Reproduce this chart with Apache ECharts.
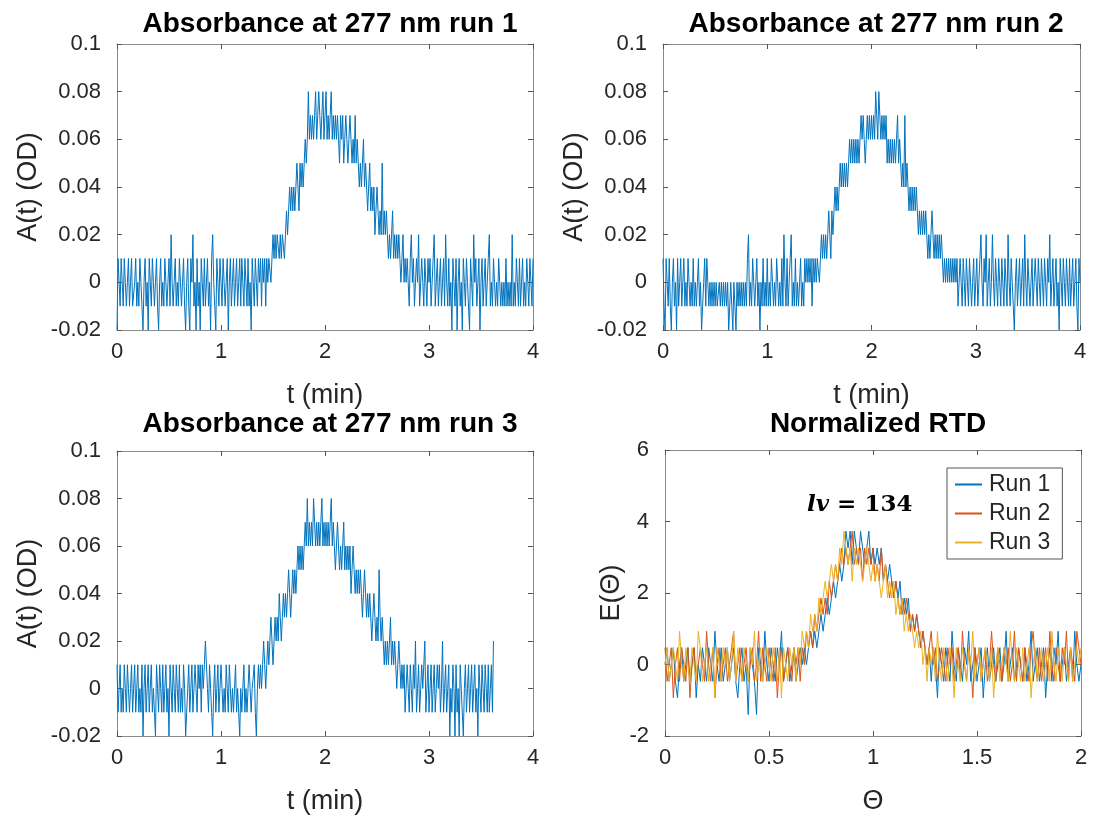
<!DOCTYPE html>
<html>
<head>
<meta charset="utf-8">
<title>Absorbance and normalized RTD</title>
<script src="https://cdn.jsdelivr.net/npm/echarts@6/dist/echarts.min.js"></script>
<style>
html, body { margin: 0; padding: 0; background: #fff; }
#main { width: 1094px; height: 819px; }
</style>
</head>
<body>
<div id="main"></div>
<script>
// absorbance at 277 nm (OD), one sample every tStep minutes, 20 samples per line
var tStep = 0.01;
var run1 = [
  -.02,.01,0,-.01,.01,0,-.01,.01,0,-.01,0,.01,-.01,0,.01,-.01,-.01,0,.01,-.01,
  0,-.01,.01,0,-.01,-.02,0,.01,-.01,0,-.02,.01,0,-.01,.01,0,-.01,0,.01,-.01,
  -.02,0,.01,-.01,0,-.01,.01,0,-.01,0,.01,-.01,.02,0,-.01,0,.01,-.01,0,-.01,
  .01,0,-.01,0,.01,-.01,-.02,0,.01,-.01,-.02,.01,0,.02,-.01,0,-.02,.01,-.01,0,
  -.02,.01,0,-.01,.01,-.01,0,.01,-.01,0,-.02,.01,.02,0,-.01,-.02,.01,0,-.01,.01,
  0,-.01,.01,0,-.01,0,.01,-.02,0,.01,-.01,0,.01,-.01,0,.01,-.01,0,.01,-.01,
  .01,0,-.01,.01,0,-.01,.01,-.01,0,-.02,.01,0,-.01,.01,0,-.01,.01,0,.01,-.01,
  .01,0,.01,-.01,.01,0,.01,.01,0,.01,.02,.01,.02,.01,.02,.02,.01,.02,.01,.02,
  .02,.01,.02,.03,.02,.03,.04,.03,.04,.03,.04,.03,.04,.05,.04,.03,.05,.04,.05,.04,
  .05,.06,.05,.06,.08,.06,.07,.06,.07,.06,.07,.08,.06,.07,.08,.07,.06,.07,.08,.06,
  .07,.08,.06,.07,.06,.07,.08,.06,.07,.06,.07,.06,.07,.06,.05,.07,.06,.07,.05,.06,
  .07,.06,.05,.06,.07,.06,.05,.06,.05,.07,.05,.06,.05,.04,.05,.04,.05,.06,.04,.05,
  .04,.03,.04,.05,.03,.04,.03,.04,.02,.03,.04,.03,.02,.03,.02,.05,.02,.03,.02,.03,
  .02,.01,.02,.01,.02,.03,.01,.02,.01,.02,.01,.02,.01,0,.01,.02,0,.01,0,.01,
  0,-.01,.01,.02,0,.01,-.01,0,.01,0,.02,-.01,0,.01,0,-.01,.01,0,-.01,.01,
  0,.01,-.01,0,.01,.02,-.01,0,.01,-.01,0,.01,-.01,0,.01,-.01,.02,0,-.01,.01,
  -.01,0,-.02,.01,0,-.01,.01,-.02,0,.01,-.01,0,-.02,.01,0,-.01,.01,0,-.01,-.02,
  .01,0,-.01,.02,0,.01,-.01,0,.01,-.02,0,.01,-.01,0,.01,-.01,0,.01,.02,-.01,
  0,-.01,.01,0,-.01,0,-.01,.01,0,-.01,0,-.01,0,-.01,.01,-.01,0,-.01,0,-.01,
  .02,-.01,0,-.01,.01,0,-.01,.01,-.01,0,.01,-.01,0,-.01,.01,0,-.01,.01,0,-.01,
  .01
];
var run2 = [
  .01,-.01,-.02,.01,0,-.01,.01,-.01,-.02,0,.01,-.01,0,-.02,.01,-.01,0,.01,-.01,0,
  .01,-.01,0,-.01,.01,0,-.01,0,-.01,.01,-.01,0,-.01,0,.01,-.01,0,-.02,-.01,0,
  .01,-.01,.01,0,-.01,0,-.01,0,-.01,0,-.01,0,-.01,-.01,0,-.01,0,-.01,0,-.01,
  0,-.01,0,-.02,-.01,0,-.01,-.02,0,-.01,-.02,0,-.01,0,-.01,0,-.01,0,-.01,0,
  -.01,.01,.02,-.01,0,-.01,.01,0,-.01,0,.01,-.01,0,-.02,0,-.01,.01,-.01,0,-.01,
  .01,-.01,0,-.01,.01,0,-.01,0,-.01,.01,0,-.01,0,-.01,.01,-.01,.02,0,-.01,.01,
  -.01,0,.01,.02,-.01,0,-.01,.01,-.01,0,-.01,0,.01,-.01,0,-.01,.01,0,.01,0,
  .01,0,.01,-.01,.01,0,.01,0,.01,.01,0,.01,.02,.01,.02,.01,.02,.01,.02,.03,
  .02,.01,.03,.02,.03,.04,.03,.04,.03,.04,.05,.04,.05,.04,.05,.04,.05,.04,.05,.06,
  .05,.06,.05,.06,.05,.06,.05,.06,.05,.06,.07,.06,.07,.06,.05,.06,.07,.06,.07,.06,
  .07,.06,.07,.06,.08,.07,.06,.08,.07,.06,.07,.06,.07,.06,.07,.05,.06,.05,.06,.05,
  .06,.05,.06,.05,.06,.07,.05,.06,.05,.04,.05,.04,.07,.04,.05,.04,.03,.04,.03,.04,
  .03,.04,.03,.04,.03,.02,.03,.02,.03,.02,.03,.02,.03,.02,.01,.02,.01,.02,.03,.02,
  .01,.02,.01,.02,.01,.02,.01,.02,.01,0,.01,0,.01,0,.01,0,.01,0,.01,0,
  .01,0,.01,-.01,0,.01,0,-.01,.01,0,-.01,.01,0,-.01,.01,0,-.01,0,.01,-.01,
  0,.01,-.01,0,.01,.02,0,-.01,.01,0,.02,-.01,0,.01,-.01,0,.02,0,-.01,.01,
  0,-.01,.01,0,-.01,.01,0,-.01,.01,0,-.01,.02,0,-.01,.01,0,-.01,-.02,0,.01,
  -.01,0,.01,-.01,0,.01,-.01,.02,0,-.01,.01,0,-.01,0,.01,-.01,0,.01,0,-.01,
  .01,0,-.01,.01,0,-.01,.01,0,-.01,.01,0,.02,-.01,0,.01,-.01,0,.01,-.01,0,
  -.02,.01,0,-.01,.01,0,-.01,.01,0,-.01,.01,-.01,0,.01,-.01,0,.01,-.01,-.02,.01,
  0
];
var run3 = [
  .01,-.01,0,.01,-.01,0,-.01,.01,0,-.01,.01,0,-.01,0,.01,-.01,0,.01,-.01,0,
  .01,-.01,0,-.01,.01,-.02,0,.01,-.01,0,.01,-.01,0,.01,-.01,0,-.01,-.02,.01,0,
  -.01,.01,0,-.01,.01,-.01,0,.01,-.01,0,-.02,.01,0,-.01,.01,0,-.01,.01,0,-.01,
  .01,-.01,0,-.01,.01,0,-.02,-.01,0,.01,-.01,0,.01,-.01,0,.01,0,-.01,.01,0,
  .01,-.01,.01,0,.01,.02,.01,0,-.01,.01,0,-.01,-.02,0,.01,-.01,0,.01,-.01,0,
  .01,0,-.01,0,-.01,.01,0,-.01,.01,0,-.01,0,-.01,0,.01,-.01,0,-.01,-.02,0,
  -.01,0,.01,-.01,0,-.01,0,.01,0,-.01,0,0,.01,-.01,-.02,0,.01,0,.01,0,
  .01,.02,.01,0,.01,.02,.01,.02,.03,.02,.01,.02,.03,.02,.03,.02,.04,.03,.02,.03,
  .04,.03,.04,.03,.04,.05,.04,.03,.04,.05,.04,.05,.04,.05,.06,.05,.06,.05,.06,.05,
  .06,.07,.06,.08,.06,.07,.06,.07,.06,.08,.07,.06,.07,.06,.07,.06,.07,.08,.06,.07,
  .06,.07,.06,.07,.06,.07,.08,.06,.07,.06,.05,.06,.07,.06,.05,.06,.05,.06,.07,.05,
  .06,.05,.06,.05,.06,.04,.05,.06,.05,.04,.05,.04,.05,.04,.05,.04,.03,.04,.05,.04,
  .03,.04,.03,.04,.03,.02,.03,.04,.03,.02,.03,.02,.05,.03,.02,.03,.02,.01,.02,.01,
  .02,.01,.02,.03,.01,.02,.01,.02,.01,0,.01,.02,.01,0,.01,0,.01,-.01,0,.01,
  0,-.01,.01,0,-.01,.01,0,.02,-.01,0,.01,-.01,0,.01,0,.01,.02,-.01,0,.01,
  -.01,0,.01,-.01,0,.01,-.01,0,.01,0,.01,-.01,0,.02,-.01,0,.01,-.01,0,.01,
  -.02,0,-.01,.01,0,-.02,.01,-.01,0,-.02,.01,0,-.01,-.02,0,.01,-.01,0,.01,-.01,
  0,.01,-.01,0,.01,-.01,0,-.02,.01,0,-.01,.01,0,-.01,.01,0,-.01,.01,-.01,0,
  .01,-.01,.02
];

// normalized RTD E(theta), one value every thetaStep, 20 values per line
var thetaStep = 0.01;
var rtd1 = [
  0,.47,-.47,0,.47,-.47,-.93,0,.47,-.47,0,.47,-.47,0,.47,-.93,0,-.47,.47,0,
  -.47,.47,0,-.47,.93,0,-.47,.47,-.47,0,.47,-.47,0,.47,-.47,-.93,0,.47,-.47,0,
  -1.4,.47,0,-.47,-1.4,.47,0,-.47,.93,0,-.47,.47,0,-.47,.47,0,.93,-.47,0,.47,
  -.47,0,.47,-.47,0,.47,0,.47,0,.47,.93,.47,.93,.47,.93,1.4,.93,1.4,1.86,1.4,
  1.86,2.33,1.86,2.33,2.8,2.33,2.8,3.73,3.26,3.73,2.8,3.73,3.26,2.8,3.73,3.26,2.8,3.26,3.73,2.8,
  3.26,2.8,3.26,2.8,3.26,2.33,2.8,2.33,2.8,2.33,1.86,2.33,1.86,2.33,1.4,1.86,1.4,1.86,.93,1.4,
  .93,1.4,.93,.47,.93,.47,0,.47,-.47,.47,0,-.93,.47,0,-.47,.47,0,-.47,.93,0,
  -.47,.47,0,-.47,.47,0,.93,-.47,0,.47,-.47,0,.47,-.93,0,.47,-.47,0,.47,-.47,
  0,.47,-.47,0,.93,-.47,0,.47,-.47,0,.47,0,-.47,.47,-.47,0,.93,-.47,0,.47,
  -.47,0,.47,-.93,0,.47,-.47,.47,0,.93,-.47,0,.47,-.47,0,.47,-.47,.93,0,-.47,
  0
];
var rtd2 = [
  .47,-.47,0,.47,-.93,0,.47,-.47,.47,0,-.47,.47,-.93,0,.47,-.47,0,.47,0,-.47,
  .93,0,-.47,.47,-.93,0,.47,-.47,0,.47,-.47,0,.47,.93,-.47,0,.47,-.47,0,.47,
  -.47,0,.47,-.47,0,.93,-.47,.47,0,-.47,.47,0,-.47,.47,-.93,0,.47,-.47,0,.47,
  0,-.47,.47,0,.47,-.47,.47,0,.93,.47,.93,.47,1.4,.93,1.4,1.86,1.4,1.86,1.4,2.33,
  1.86,2.33,2.8,2.33,2.8,3.26,2.8,3.26,2.8,3.26,3.73,2.8,3.26,2.8,3.26,2.33,3.26,2.8,3.26,2.8,
  3.26,2.33,2.8,2.33,3.26,2.33,2.8,2.33,1.86,2.33,1.86,2.33,1.86,1.4,1.86,1.4,1.86,1.4,.93,1.4,
  .93,1.4,.93,.47,.93,.47,0,.47,.93,0,.47,-.47,0,.47,0,-.47,.47,0,.47,-.47,
  0,.47,-.47,.93,0,-.47,.47,0,-.93,.47,0,.47,-.47,0,.47,-.47,0,.93,0,-.47,
  .47,0,-.47,.47,0,.47,-.47,0,.93,-.47,.47,0,-.47,.47,0,-.47,.47,.93,0,-.47,
  .47,-.47,0,.47,-.47,.93,0,-.47,.47,0,-.47,.47,0,.93,-.47,.47,0,-.47,.93,.47,
  0
];
var rtd3 = [
  0,.47,-.47,0,.47,0,-.47,.93,0,-.47,.47,0,-.47,.47,0,-.47,.93,.47,-.47,0,
  .47,-.47,0,.47,-.93,.47,0,-.47,.47,0,.47,-.47,0,.93,-.47,.47,0,-.47,.47,0,
  -.47,.47,0,.93,-.47,0,.47,-.47,0,.47,0,-.47,.47,0,-.47,.47,-.93,.47,0,-.47,
  .47,0,.47,-.47,.47,0,.93,.47,.93,.47,1.4,.93,1.4,.93,1.86,1.4,1.86,2.33,1.86,2.33,
  2.8,2.33,2.8,2.33,3.26,2.8,3.73,3.26,2.8,3.26,2.33,3.26,2.8,3.26,2.8,2.33,2.8,3.26,2.8,2.33,
  2.8,2.33,2.8,2.33,1.86,2.33,2.8,1.86,2.33,1.86,2.33,1.4,1.86,1.4,1.86,.93,1.4,.93,1.4,.93,
  .47,.93,.47,.93,0,.47,-.47,.47,0,.47,-.47,.93,0,-.47,.47,0,-.47,.47,0,-.93,
  .47,0,-.47,.47,0,-.47,.47,0,.93,-.47,0,.47,-.47,0,.47,0,-.47,.47,-.93,0,
  .47,-.47,0,.47,0,-.47,.93,0,-.47,.47,0,-.47,.47,-.47,0,.47,-.93,0,.47,-.47,
  0,.47,-.47,0,.47,-.47,.93,0,-.47,.47,0,-.47,.47,0,-.47,.47,-.47,0,.47,0,
  .47
];

var runNames = ['Run 1', 'Run 2', 'Run 3'];
var plotTitles = ['Absorbance at 277 nm run 1', 'Absorbance at 277 nm run 2',
                  'Absorbance at 277 nm run 3', 'Normalized RTD'];
var colors = ['#0072BD', '#D95319', '#EDB120'];

var FONT = '"Liberation Sans", Arial, sans-serif';
var INK = '#262626';
var BOX = '#8a8a8a';

function pairs(vals, step) {
  return vals.map(function (v, i) { return [+(i * step).toFixed(2), v]; });
}

function fmt(v) { return String(+v.toFixed(2)); }

// grid position for each subplot
var grids = [
  {left: 117, top: 44, width: 416, height: 286},
  {left: 663, top: 44, width: 417, height: 286},
  {left: 117, top: 451, width: 416, height: 285},
  {left: 665, top: 450, width: 416, height: 286}
];

var xAxes = [], yAxes = [];
function addAxes(g, x, y) {
  var common = {
    type: 'value', gridIndex: g,
    axisLine: {show: true, onZero: false, lineStyle: {color: BOX, width: 1}},
    axisTick: {show: true, inside: true, length: 5, lineStyle: {color: '#555'}},
    splitLine: {show: false}
  };
  xAxes.push(Object.assign({}, common, {
    position: 'bottom', min: x.min, max: x.max, interval: x.step,
    name: x.name, nameLocation: 'middle', nameGap: x.gap,
    nameTextStyle: {fontFamily: FONT, fontSize: 27, color: INK},
    axisLabel: {fontFamily: FONT, fontSize: 22, color: INK, margin: 11, formatter: fmt}
  }));
  xAxes.push(Object.assign({}, common, {
    position: 'top', min: x.min, max: x.max, interval: x.step,
    axisLabel: {show: false}
  }));
  yAxes.push(Object.assign({}, common, {
    position: 'left', min: y.min, max: y.max, interval: y.step,
    name: y.name, nameLocation: 'middle', nameGap: y.gap,
    nameTextStyle: {fontFamily: FONT, fontSize: 27, color: INK},
    axisLabel: {fontFamily: FONT, fontSize: 22, color: INK, margin: 16, formatter: fmt}
  }));
  yAxes.push(Object.assign({}, common, {
    position: 'right', min: y.min, max: y.max, interval: y.step,
    axisLabel: {show: false}
  }));
}

var tAxis = {min: 0, max: 4, step: 1, name: 't (min)', gap: 52};
var aAxis = {min: -0.02, max: 0.1, step: 0.02, name: 'A(t) (OD)', gap: 75};
addAxes(0, tAxis, aAxis);
addAxes(1, tAxis, aAxis);
addAxes(2, tAxis, aAxis);
addAxes(3, {min: 0, max: 2, step: 0.5, name: 'Θ', gap: 52},
           {min: -2, max: 6, step: 2, name: 'E(Θ)', gap: 36});

var series = [];
[run1, run2, run3].forEach(function (r, k) {
  series.push({
    name: 'abs' + (k + 1), type: 'line',
    xAxisIndex: 2 * k, yAxisIndex: 2 * k,
    data: pairs(r, tStep), symbol: 'none',
    lineStyle: {color: colors[0], width: 1}, itemStyle: {color: colors[0]}
  });
});
[rtd1, rtd2, rtd3].forEach(function (r, k) {
  series.push({
    name: runNames[k], type: 'line', xAxisIndex: 6, yAxisIndex: 6,
    data: pairs(r, thetaStep), symbol: 'none',
    lineStyle: {color: colors[k], width: 1}, itemStyle: {color: colors[k]}
  });
});

var titleCenters = [[325, 5], [871, 5], [325, 405], [873, 405]];
var titles = plotTitles.map(function (t, i) {
  return {
    text: t, left: titleCenters[i][0], top: titleCenters[i][1], textAlign: 'center',
    textStyle: {fontFamily: FONT, fontSize: 28, fontWeight: 'bold', color: '#000'}
  };
});

var chart = echarts.init(document.getElementById('main'));
chart.setOption({
  animation: false,
  backgroundColor: '#fff',
  title: titles,
  grid: grids,
  xAxis: xAxes,
  yAxis: yAxes,
  series: series,
  legend: {
    data: runNames, orient: 'vertical', left: 947, top: 468,
    icon: 'rect', itemWidth: 27, itemHeight: 2, itemGap: 6,
    padding: [5, 12, 5, 8],
    borderColor: '#555', borderWidth: 1, backgroundColor: '#fff',
    textStyle: {fontFamily: FONT, fontSize: 23, color: INK, padding: [0, 0, 0, 2]}
  },
  graphic: [{
    type: 'text', left: 807, top: 494,
    style: {
      text: '{a|lv}{b| = 134}',
      rich: {
        a: {fontFamily: '"DejaVu Serif", serif', fontStyle: 'italic', fontWeight: 'bold', fontSize: 23, fill: '#000'},
        b: {fontFamily: '"DejaVu Serif", serif', fontWeight: 'bold', fontSize: 23, fill: '#000'}
      }
    }
  }]
});
</script>
</body>
</html>
